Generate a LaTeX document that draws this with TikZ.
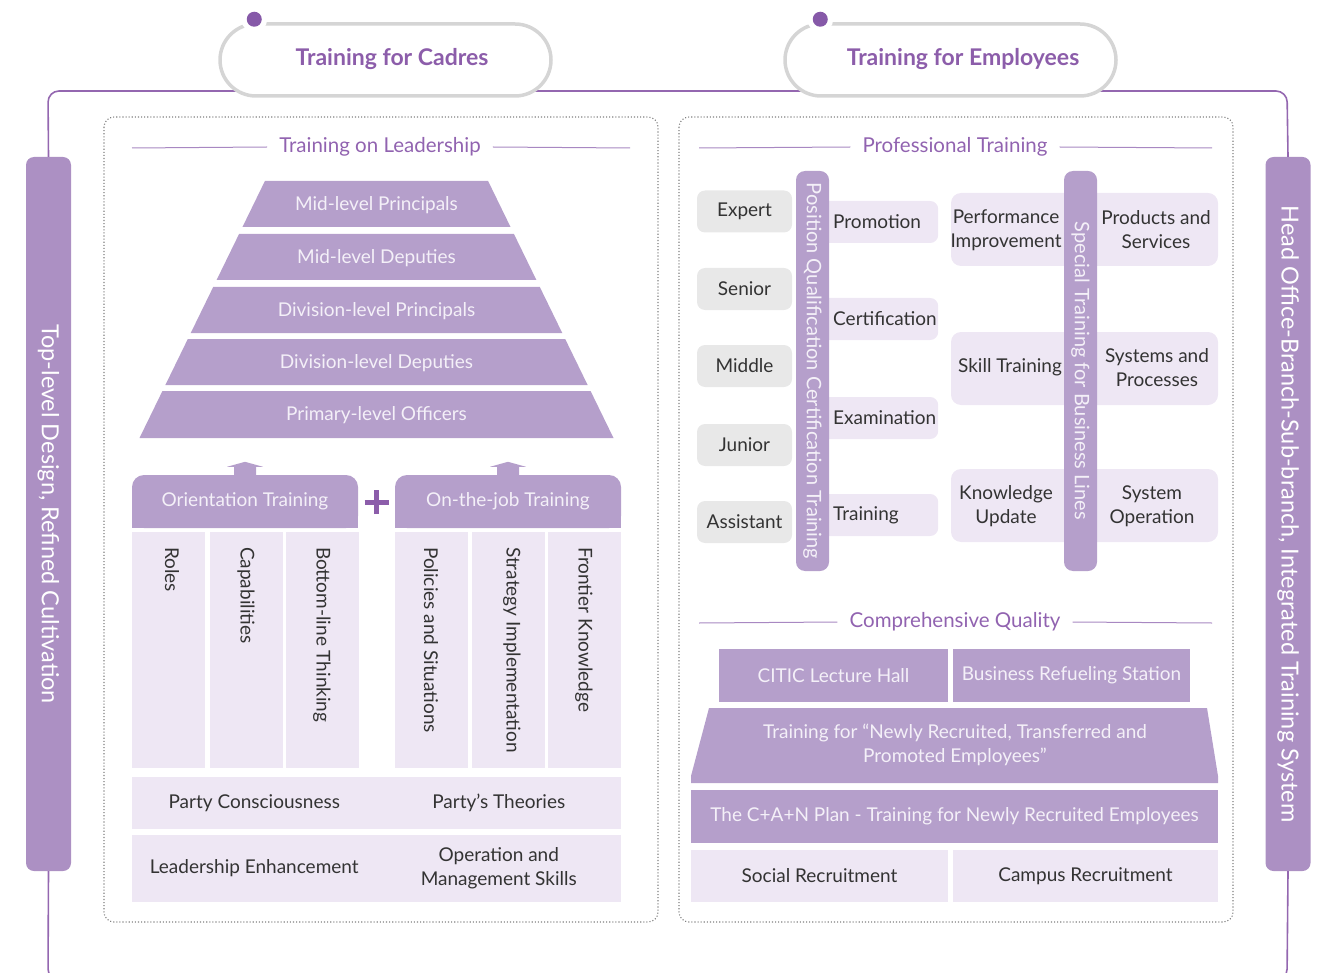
\documentclass[tikz,border=0pt]{standalone}
\usepackage{fontspec}
\setmainfont{Lato}
\usetikzlibrary{positioning}

\definecolor{framepurple}{HTML}{9467B0}
\definecolor{dotpurple}{HTML}{8659A8}
\definecolor{titlepurple}{HTML}{8C5DAA}
\definecolor{headpurple}{HTML}{9163B0}
\definecolor{rulepurple}{HTML}{A888C2}
\definecolor{barpurple}{HTML}{B59FCB}
\definecolor{sidepurple}{HTML}{AC90C3}
\definecolor{lavender}{HTML}{EEE7F4}
\definecolor{taggray}{HTML}{E8E8E8}
\definecolor{pillgray}{HTML}{D5D5D5}
\definecolor{darktext}{HTML}{333333}
\definecolor{lighttext}{HTML}{F4F0F8}

% small arrow sitting on top of a block
\newcommand{\liftarrow}[1]{%
  \fill[barpurple, shift={(#1)}] (-11,0) -- (-11,-8) -- (-18,-8) -- (0,-13) -- (18,-8) -- (11,-8) -- (11,0) -- cycle;}

\begin{document}
\begin{tikzpicture}[x=1pt, y=-1pt,
    every node/.style={inner sep=0pt, font=\fontsize{19}{24}\selectfont},
    pill/.style={draw=pillgray, line width=3.5pt, fill=white, rounded corners=36pt,
      minimum width=331pt, minimum height=72pt},
    title/.style={text=titlepurple, font=\fontsize{23}{27}\selectfont\bfseries},
    sidebar/.style={fill=sidepurple, rounded corners=8pt, rotate=-90, minimum width=714pt,
      minimum height=45pt, text=white, font=\fontsize{23.5}{27}\selectfont},
    panel/.style={draw=gray, dotted, line width=1.1pt, rounded corners=10pt},
    header/.style={text=headpurple, inner xsep=12pt, font=\fontsize{20.5}{24}\selectfont},
    rule/.style={draw=rulepurple, line width=1pt},
    light/.style={text=lighttext, align=center},
    dark/.style={text=darktext, align=center},
    band/.style={fill=barpurple, light},
    cell/.style={fill=lavender, dark},
    col/.style={fill=lavender, minimum width=73pt, minimum height=236pt},
    coltext/.style={dark, rotate=-90, anchor=west},
    tag/.style={fill=taggray, dark, rounded corners=8pt, minimum width=95pt, minimum height=42pt},
    qbox/.style={fill=lavender, text=darktext, rounded corners=8pt, minimum height=42pt,
      text width=90pt, inner xsep=15pt, align=left},
    vbar/.style={fill=barpurple, text=lighttext, rounded corners=9pt, rotate=-90,
      minimum width=400pt, minimum height=33pt, font=\fontsize{20}{24}\selectfont},
    pairbox/.style={fill=lavender, rounded corners=10pt, minimum width=267pt, minimum height=73pt}
  ]
  \useasboundingbox (0,0) rectangle (1329,973);

  % side bars and the frame line
  \node[sidebar] (topBar) at (48.5,514) {Top-level Design, Refined Cultivation};
  \node[sidebar] (hoBar)  at (1288,514) {Head Office-Branch-Sub-branch, Integrated Training System};
  \draw[framepurple, line width=1.6pt, rounded corners=11pt]
    (topBar.west) -- (48,91) -- (1287,91) -- (hoBar.west);
  \draw[framepurple, line width=1.6pt, rounded corners=11pt]
    (topBar.east) -- (48,980) -- (110,980);
  \draw[framepurple, line width=1.6pt, rounded corners=11pt]
    (hoBar.east) -- (1287,980) -- (1220,980);

  % title pills
  \node[pill] (cadres)    at (385.5,60) {};
  \node[pill] (employees) at (950.5,60) {};
  \node[title] (cadresTitle)    at (392,59) {Training for Cadres};
  \node[title] (employeesTitle) at (963,59) {Training for Employees};
  \coordinate (cadresDot)    at ([xshift=36pt, yshift=3pt]cadres.north west);
  \coordinate (employeesDot) at ([xshift=37pt, yshift=3pt]employees.north west);
  \foreach \d in {cadresDot, employeesDot}{
    \fill[white] (\d) circle (13pt);
    \fill[dotpurple] (\d) circle (7.5pt);
  }

  % dotted panels
  \draw[panel] (104,117) rectangle (658,922);
  \draw[panel] (679,117) rectangle (1233,922);

  %%% left panel
  \node[header] (hLead) at (380,147) {Training on Leadership};
  \draw[rule] (132,148) -- (hLead.west);
  \draw[rule] (hLead.east) -- (630,148);

  % pyramid
  \foreach \yt/\yb/\txt [count=\i] in {181/227/Mid-level Principals, 234/280/Mid-level Deputies,
      287/333/Division-level Principals, 339/385/Division-level Deputies, 391/438/Primary-level Officers}{
    \pgfmathsetmacro\wt{237-0.488*(438-\yt)}
    \pgfmathsetmacro\wb{237-0.488*(438-\yb)}
    \fill[barpurple] ({376.5-\wt},\yt) -- ({376.5+\wt},\yt) -- ({376.5+\wb},\yb) -- ({376.5-\wb},\yb) -- cycle;
    \node[light] (lvl\i) at (376.5,{(\yt+\yb)/2+1}) {\txt};
  }

  % the two training blocks
  \fill[barpurple] (132,505) rectangle (358,528);
  \fill[barpurple] (395,505) rectangle (621,528);
  \node[band, rounded corners=12pt, minimum width=226pt, minimum height=53pt] (orient) at (245,501.5) {Orientation Training};
  \node[band, rounded corners=12pt, minimum width=226pt, minimum height=53pt] (onjob)  at (508,501.5) {On-the-job Training};
  \liftarrow{orient.north}
  \liftarrow{onjob.north}
  \node (plus) at (376.5,502) {};
  \draw[titlepurple, line width=5pt] ([xshift=-12pt]plus.center) -- ([xshift=12pt]plus.center);
  \draw[titlepurple, line width=5pt] ([yshift=-12pt]plus.center) -- ([yshift=12pt]plus.center);

  \node[col] (cRoles)    at (168.5,650) {};
  \node[col] (cCapab)    at (246,650)   {};
  \node[col] (cBottom)   at (322,650)   {};
  \node[col] (cPolicy)   at (431,650)   {};
  \node[col] (cStrategy) at (508,650)   {};
  \node[col] (cFrontier) at (584.5,650) {};
  \node[coltext] (tRoles)    at (172,547) {Roles};
  \node[coltext] (tCapab)    at (246,547) {Capabilities};
  \node[coltext] (tBottom)   at (322,547) {Bottom-line Thinking};
  \node[coltext] (tPolicy)   at (431,547) {Policies and Situations};
  \node[coltext] (tStrategy) at (512,547) {Strategy Implementation};
  \node[coltext] (tFrontier) at (584,547) {Frontier Knowledge};

  \node[cell, minimum width=244.5pt, minimum height=52pt] (partyA) at (254.25,803) {Party Consciousness};
  \node[cell, minimum width=244.5pt, minimum height=52pt] (partyB) at (498.75,803) {Party’s Theories};
  \node[cell, minimum width=244.5pt, minimum height=67pt] (leadA)  at (254.25,868.5) {Leadership Enhancement};
  \node[cell, minimum width=244.5pt, minimum height=67pt] (leadB)  at (498.75,868.5) {Operation and\\Management Skills};

  %%% right panel
  \node[header] (hProf) at (955,147) {Professional Training};
  \draw[rule] (699,148) -- (hProf.west);
  \draw[rule] (hProf.east) -- (1212,148);

  \foreach \y/\txt [count=\i] in {211.5/Expert, 289/Senior, 366/Middle, 445/Junior, 522/Assistant}
    \node[tag] (rank\i) at (744.5,\y) {\txt};
  \foreach \y/\txt [count=\i] in {222/Promotion, 319/Certification, 418/Examination, 515/Training}
    \node[qbox, anchor=west] (qual\i) at (818,\y) {\txt};
  \node[vbar] (posBar) at (812.5,371) {Position Qualification Certification Training};

  \node[pairbox] (pairA) at (1084.5,229.5) {};
  \node[pairbox] (pairB) at (1084.5,368.5) {};
  \node[pairbox] (pairC) at (1084.5,505.5) {};
  \node[dark] (perf)    at (1006,230) {Performance\\Improvement};
  \node[dark] (prod)    at (1156,230) {Products and\\Services};
  \node[dark] (skill)   at (1010,367) {Skill Training};
  \node[dark] (systems) at (1157,368) {Systems and\\Processes};
  \node[dark] (know)    at (1006,506) {Knowledge\\Update};
  \node[dark] (sysop)   at (1152,506) {System\\Operation};
  \node[vbar] (lineBar) at (1080.5,371) {Special Training for Business Lines};

  \node[header] (hComp) at (955,622) {Comprehensive Quality};
  \draw[rule] (699,623) -- (hComp.west);
  \draw[rule] (hComp.east) -- (1212,623);

  \node[band, minimum width=229pt, minimum height=53pt] (citic)  at (833.5,675.5) {CITIC Lecture Hall};
  \node[band, minimum width=237pt, minimum height=53pt] (refuel) at (1071.5,675.5) {Business Refueling Station};
  \fill[barpurple] (709,708) -- (1207,708) -- (1218,776) -- (1218,783) -- (691,783) -- (691,776) -- cycle;
  \node[light] (newly) at (955,745) {Training for “Newly Recruited, Transferred and\\Promoted Employees”};
  \node[band, minimum width=527pt, minimum height=53pt] (can) at (954.5,816.5) {The C+A+N Plan - Training for Newly Recruited Employees};
  \node[cell, minimum width=257pt, minimum height=52pt] (social) at (819.5,876) {Social Recruitment};
  \node[cell, minimum width=265pt, minimum height=52pt] (campus) at (1085.5,876) {Campus Recruitment};
\end{tikzpicture}
\end{document}
